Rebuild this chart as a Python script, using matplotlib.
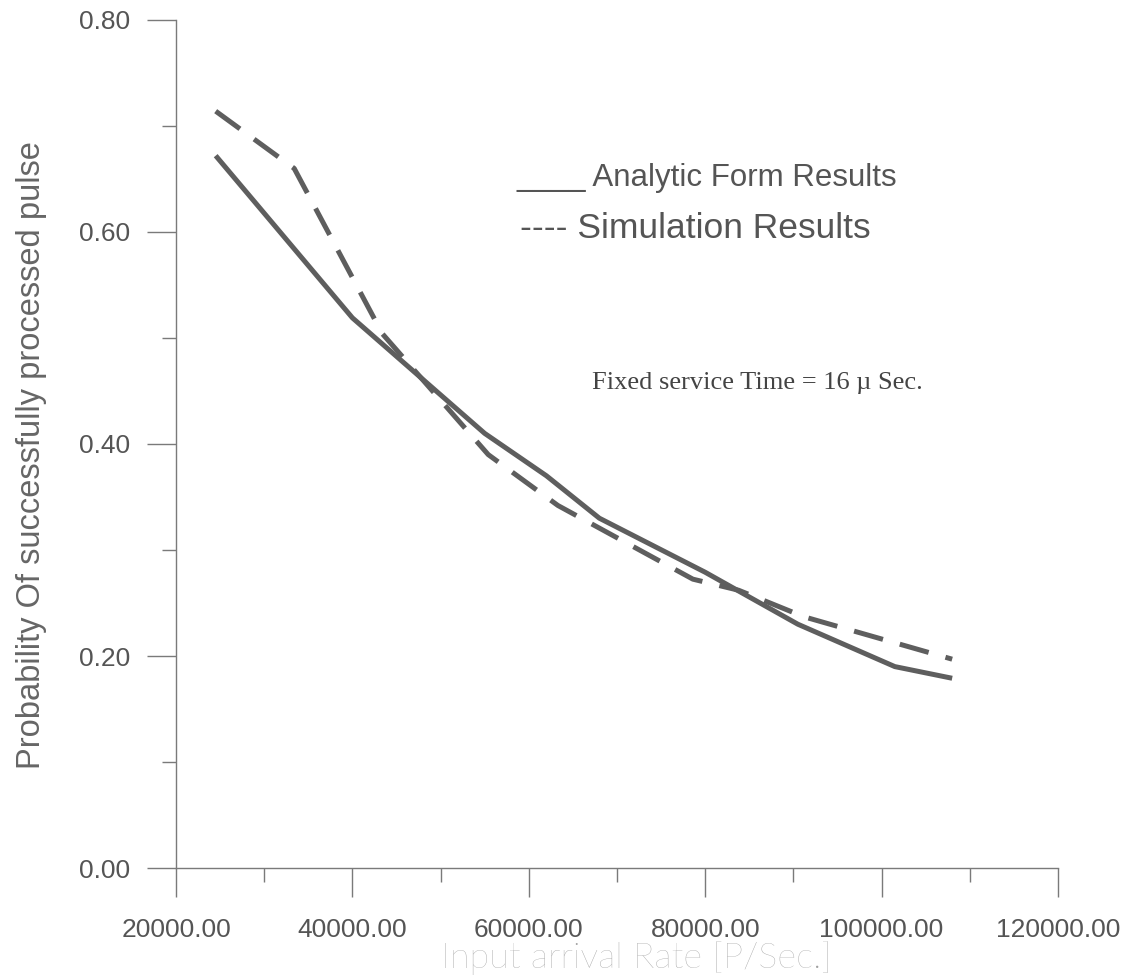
import matplotlib
matplotlib.use('Agg')
import matplotlib.pyplot as plt
from matplotlib.ticker import MultipleLocator, FixedLocator

# values
analytic_x = [24500, 40000, 55000, 62000, 68000, 80000, 90500, 101500, 108000]
analytic_y = [0.672, 0.519, 0.410, 0.370, 0.330, 0.279, 0.230, 0.190, 0.179]

simulation_x = [24500, 33400, 43400, 55400, 63300, 78600, 83800, 91200, 108000]
simulation_y = [0.714, 0.660, 0.504, 0.390, 0.342, 0.2725, 0.262, 0.237, 0.197]

x_ticks = [20000, 40000, 60000, 80000, 100000, 120000]
y_ticks = [0.0, 0.2, 0.4, 0.6, 0.8]

W, H = 1132, 980
LINE = '#5e5e5e'
AXC = '#7a7a7a'
TXT = '#555555'

plt.rcParams['font.family'] = ['Liberation Sans', 'DejaVu Sans']

fig = plt.figure(figsize=(W / 100, H / 100), dpi=100)
ax = fig.add_axes([176 / W, 1 - 868 / H, (1058 - 176) / W, (868 - 20) / H])

ax.plot(analytic_x, analytic_y, color=LINE, lw=3.6, solid_capstyle='butt')
ax.plot(simulation_x, simulation_y, color=LINE, lw=3.6, dashes=(6, 3.5),
        dash_capstyle='butt')

ax.set_xlim(20000, 120000)
ax.set_ylim(0, 0.8)
ax.xaxis.set_major_locator(FixedLocator(x_ticks))
ax.xaxis.set_minor_locator(MultipleLocator(10000))
ax.yaxis.set_major_locator(FixedLocator(y_ticks))
ax.yaxis.set_minor_locator(MultipleLocator(0.1))
ax.set_xticklabels(['%.2f' % v for v in x_ticks])
ax.set_yticklabels(['%.2f' % v for v in y_ticks])

ax.spines[['top', 'right']].set_visible(False)
for s in ['left', 'bottom']:
    ax.spines[s].set_color(AXC)
    ax.spines[s].set_linewidth(1)
ax.tick_params(which='major', length=21, width=1, color=AXC, pad=12,
               labelsize=19, labelcolor=TXT)
ax.tick_params(axis='x', which='major', pad=15)
ax.tick_params(which='minor', length=10, width=1, color=AXC)

# axis titles
fig.text(32 / W, 1 - 455 / H, 'Probability Of successfully processed pulse',
         rotation=90, ha='center', va='center', fontsize=23.5, color='#666666')
fig.text(636 / W, 1 - 958 / H, 'Input arrival Rate [P/Sec.]',
         ha='center', va='center', fontsize=26, color='#a0a0a0',
         family=['Lato', 'DejaVu Sans'], fontweight='light')

# legend drawn as text, as in the original
fig.text(517 / W, 1 - 178 / H, '____ Analytic Form Results',
         ha='left', va='center', fontsize=22.5, color=TXT)
fig.text(520 / W, 1 - 228 / H, '---- Simulation Results',
         ha='left', va='center', fontsize=25.5, color=TXT)
fig.text(592 / W, 1 - 383 / H, 'Fixed service Time = 16 \u00b5 Sec.',
         ha='left', va='center', fontsize=19, color='#444444',
         family=['Liberation Serif', 'DejaVu Serif'])

fig.savefig('out.png', dpi=100)
